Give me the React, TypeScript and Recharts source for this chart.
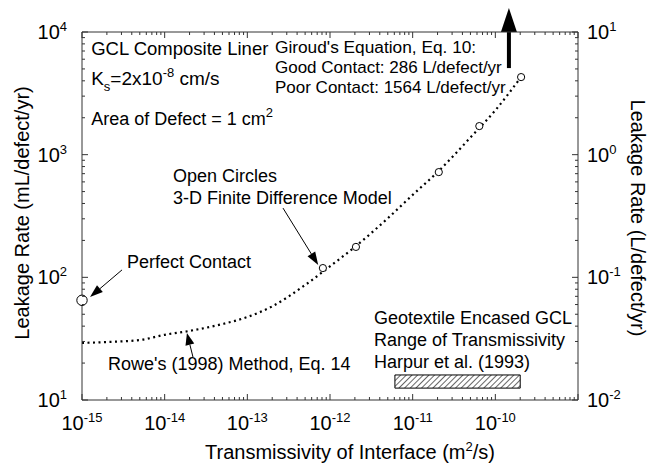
import {
  ComposedChart,
  Line,
  ReferenceArea,
  ReferenceDot,
  ReferenceLine,
  Scatter,
  XAxis,
  YAxis,
} from "recharts";

// Rowe's (1998) method, dotted curve (m2/s vs mL/defect/yr)
const roweT = [1e-15, 2e-15, 5e-15, 1e-14, 2e-14, 5e-14, 1e-13, 2e-13, 5e-13, 1e-12, 2e-12, 5e-12, 1e-11, 2e-11, 5e-11, 1e-10, 2e-10];
const roweQ = [29.2, 29.7, 30.8, 34, 36.6, 41.6, 47.5, 58, 86.6, 123, 177, 303, 470, 721, 1380, 2300, 4200];

// 3-D finite difference model, open circles
const fdT = [8.2e-13, 2.06e-12, 2.07e-11, 6.4e-11, 2.05e-10];
const fdQ = [119, 177, 721, 1710, 4290];

// perfect contact
const perfectT = [1e-15];
const perfectQ = [65];

// Harpur et al. (1993) transmissivity range
const harpurRange = [6.1e-12, 2e-10];

// tick label exponents
const xLabelExp = [-15, -14, -13, -12, -11, -10];
const yLeftExp = [1, 2, 3, 4];
const yRightExp = [-2, -1, 0, 1];

const roweData = roweT.map((x, i) => ({ x, y: roweQ[i] }));
const fdData = fdT.map((x, i) => ({ x, y: fdQ[i] }));
const perfectData = perfectT.map((x, i) => ({ x, y: perfectQ[i] }));

function logTicks(lo: number, hi: number) {
  const out: number[] = [];
  for (let e = lo; e < hi; e++) {
    for (let m = 1; m < 10; m++) out.push(m * Math.pow(10, e));
  }
  out.push(Math.pow(10, hi));
  return out;
}

const xTicks = logTicks(-15, -9);
const yLeftTicks = logTicks(1, 4);
const yRightTicks = logTicks(-2, 1);

const FONT = "'Liberation Sans', Arial, Helvetica, sans-serif";
const AXIS = "#333";

function expOf(v: number) {
  const l = Math.log10(v);
  const e = Math.round(l);
  return { e, major: Math.abs(l - e) < 1e-6 };
}

function Pow({ x, y, e, anchor }: { x: number; y: number; e: number; anchor: "start" | "middle" | "end" }) {
  return (
    <text x={x} y={y} textAnchor={anchor} fontSize={20} fontFamily={FONT} fill="#000">
      10
      <tspan dy={-8} fontSize={13}>
        {e}
      </tspan>
    </text>
  );
}

function makeTick(side: "bottom" | "top" | "left" | "right", labels: number[]) {
  return (props: any) => {
    const { x, y, payload } = props;
    const { e, major } = expOf(payload.value);
    const len = major ? 6 : 3;
    const show = major && labels.includes(e);
    if (side === "bottom")
      return (
        <g>
          <line x1={x} x2={x} y1={y} y2={y - len} stroke={AXIS} />
          {show && <Pow x={x} y={y + 30} e={e} anchor="middle" />}
        </g>
      );
    if (side === "top")
      return (
        <g>
          <line x1={x} x2={x} y1={y} y2={y + len} stroke={AXIS} />
        </g>
      );
    if (side === "left")
      return (
        <g>
          <line x1={x} x2={x + len} y1={y} y2={y} stroke={AXIS} />
          {show && <Pow x={x - 15} y={y + 7} e={e} anchor="end" />}
        </g>
      );
    return (
      <g>
        <line x1={x} x2={x - len} y1={y} y2={y} stroke={AXIS} />
        {show && <Pow x={x + 9} y={y + 7} e={e} anchor="start" />}
      </g>
    );
  };
}

function arrow(head: number, width: number, sw: number) {
  return (p: any) => {
    const { x1, y1, x2, y2 } = p;
    const dx = x2 - x1;
    const dy = y2 - y1;
    const len = Math.hypot(dx, dy) || 1;
    const ux = dx / len;
    const uy = dy / len;
    const bx = x2 - ux * head;
    const by = y2 - uy * head;
    const px = -uy * (width / 2);
    const py = ux * (width / 2);
    return (
      <g>
        <line x1={x1} y1={y1} x2={bx} y2={by} stroke="#000" strokeWidth={sw} />
        <polygon points={`${x2},${y2} ${bx + px},${by + py} ${bx - px},${by - py}`} fill="#000" />
      </g>
    );
  };
}

function note(lines: React.ReactNode, size = 18) {
  return (p: any) => (
    <text x={p.cx} y={p.cy} fontSize={size} fontFamily={FONT} fill="#000">
      {lines}
    </text>
  );
}

const openCircle = (r: number) => (p: any) => (
  <circle cx={p.cx} cy={p.cy} r={r} fill="#fff" stroke="#000" strokeWidth={1} />
);

export default function App() {
  return (
    <div style={{ position: "absolute", left: 0, top: 0, background: "#fff" }}>
      <ComposedChart width={649} height={464} margin={{ top: 0, right: 0, bottom: 0, left: 0 }}>
        <defs>
          <pattern id="hatch" width="4" height="4" patternUnits="userSpaceOnUse" patternTransform="rotate(45)">
            <line x1="0" y1="0" x2="0" y2="4" stroke="#000" strokeWidth="1.2" />
          </pattern>
        </defs>
        <XAxis
          dataKey="x"
          type="number"
          scale="log"
          domain={[1e-15, 1e-9]}
          ticks={xTicks}
          interval={0}
          height={64}
          tickSize={0}
          tickMargin={0}
          tickLine={false}
          axisLine={{ stroke: AXIS }}
          tick={makeTick("bottom", xLabelExp)}
          label={(p: any) => (
            <text x={350} y={p.viewBox.y + 59} textAnchor="middle" fontSize={20} fontFamily={FONT} fill="#000">
              Transmissivity of Interface (m
              <tspan dy={-8} fontSize={13}>2</tspan>
              <tspan dy={8}>/s)</tspan>
            </text>
          )}
        />
        <XAxis
          xAxisId="top"
          orientation="top"
          dataKey="x"
          type="number"
          scale="log"
          domain={[1e-15, 1e-9]}
          allowDataOverflow
          ticks={xTicks}
          interval={0}
          height={32}
          tickSize={0}
          tickMargin={0}
          tickLine={false}
          axisLine={{ stroke: AXIS }}
          tick={makeTick("top", [])}
        />
        <YAxis
          dataKey="y"
          type="number"
          scale="log"
          domain={[10, 10000]}
          ticks={yLeftTicks}
          interval={0}
          width={82}
          tickSize={0}
          tickMargin={0}
          tickLine={false}
          axisLine={{ stroke: AXIS }}
          tick={makeTick("left", yLeftExp)}
          label={(p: any) => {
            const cy = p.viewBox.y + p.viewBox.height / 2 - 3;
            return (
              <text x={29} y={cy} transform={`rotate(-90 29 ${cy})`} textAnchor="middle" fontSize={20} fontFamily={FONT} fill="#000">
                Leakage Rate (mL/defect/yr)
              </text>
            );
          }}
        />
        <YAxis
          yAxisId="right"
          orientation="right"
          type="number"
          scale="log"
          domain={[0.01, 10]}
          allowDataOverflow
          ticks={yRightTicks}
          interval={0}
          width={71}
          tickSize={0}
          tickMargin={0}
          tickLine={false}
          axisLine={{ stroke: AXIS }}
          tick={makeTick("right", yRightExp)}
          label={(p: any) => {
            const cy = p.viewBox.y + p.viewBox.height / 2 + 2;
            return (
              <text x={631} y={cy} transform={`rotate(90 631 ${cy})`} textAnchor="middle" fontSize={20} fontFamily={FONT} fill="#000">
                Leakage Rate (L/defect/yr)
              </text>
            );
          }}
        />

        <ReferenceArea
          x1={harpurRange[0]}
          x2={harpurRange[1]}
          y1={12.5}
          y2={16}
          fill="url(#hatch)"
          fillOpacity={1}
          stroke="#000"
          strokeWidth={1}
          ifOverflow="visible"
        />

        <Line
          data={roweData}
          dataKey="y"
          type="monotone"
          stroke="#000"
          strokeWidth={2.2}
          strokeDasharray="2 3.5"
          dot={false}
          isAnimationActive={false}
        />
        <Scatter data={fdData} dataKey="y" shape={openCircle(3.6)} isAnimationActive={false} />
        <Scatter data={perfectData} dataKey="y" shape={openCircle(5.2)} isAnimationActive={false} />

        {/* arrows */}
        <ReferenceLine segment={[{ x: 3.05e-15, y: 115 }, { x: 1.25e-15, y: 69 }]} shape={arrow(13, 9, 1)} ifOverflow="visible" />
        <ReferenceLine segment={[{ x: 2.7e-13, y: 367 }, { x: 7.2e-13, y: 126 }]} shape={arrow(13, 9, 1)} ifOverflow="visible" />
        <ReferenceLine segment={[{ x: 2.2e-14, y: 22.4 }, { x: 1.86e-14, y: 35.2 }]} shape={arrow(12, 9, 1)} ifOverflow="visible" />
        <ReferenceLine segment={[{ x: 1.46e-10, y: 5080 }, { x: 1.46e-10, y: 15700 }]} shape={arrow(24, 16, 4)} ifOverflow="visible" />

        {/* annotations */}
        <ReferenceDot x={1.29e-15} y={6490} r={0} ifOverflow="visible" shape={note("GCL Composite Liner", 18.5)} />
        <ReferenceDot
          x={1.29e-15}
          y={3700}
          r={0}
          ifOverflow="visible"
          shape={note(
            <>
              K
              <tspan dy={6} fontSize={13}>s</tspan>
              <tspan dy={-6}>=2x10</tspan>
              <tspan dy={-8} fontSize={13}>-8</tspan>
              <tspan dy={8}> cm/s</tspan>
            </>,
            19
          )}
        />
        <ReferenceDot
          x={1.29e-15}
          y={1745}
          r={0}
          ifOverflow="visible"
          shape={note(
            <>
              Area of Defect = 1 cm
              <tspan dy={-8} fontSize={13}>2</tspan>
            </>
          )}
        />
        <ReferenceDot x={2.16e-13} y={6740} r={0} ifOverflow="visible" shape={note("Giroud's Equation, Eq. 10:", 17.3)} />
        <ReferenceDot x={2.16e-13} y={4630} r={0} ifOverflow="visible" shape={note("Good Contact: 286 L/defect/yr", 17)} />
        <ReferenceDot x={2.16e-13} y={3180} r={0} ifOverflow="visible" shape={note("Poor Contact: 1564 L/defect/yr", 17)} />
        <ReferenceDot x={1.26e-14} y={598} r={0} ifOverflow="visible" shape={note("Open Circles")} />
        <ReferenceDot x={1.26e-14} y={396} r={0} ifOverflow="visible" shape={note("3-D Finite Difference Model")} />
        <ReferenceDot x={3.5e-15} y={119} r={0} ifOverflow="visible" shape={note("Perfect Contact")} />
        <ReferenceDot x={2.06e-15} y={17.6} r={0} ifOverflow="visible" shape={note("Rowe's (1998) Method, Eq. 14")} />
        <ReferenceDot x={3.4e-12} y={41.7} r={0} ifOverflow="visible" shape={note("Geotextile Encased GCL")} />
        <ReferenceDot x={3.4e-12} y={27.6} r={0} ifOverflow="visible" shape={note("Range of Transmissivity")} />
        <ReferenceDot x={3.4e-12} y={18.2} r={0} ifOverflow="visible" shape={note("Harpur et al. (1993)")} />
      </ComposedChart>
    </div>
  );
}
